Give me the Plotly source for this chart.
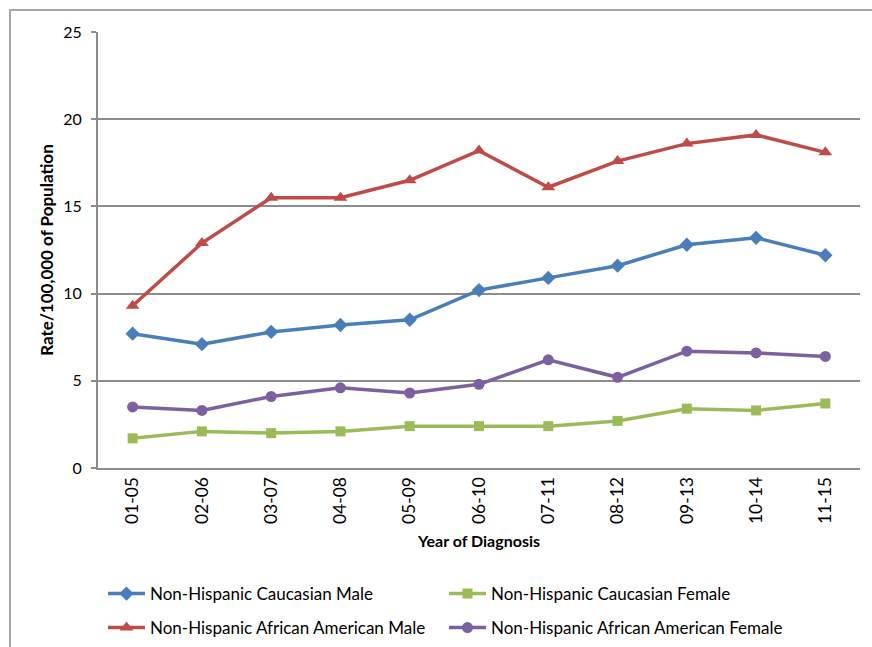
import plotly.graph_objects as go

periods = ["01-05", "02-06", "03-07", "04-08", "05-09", "06-10", "07-11", "08-12", "09-13", "10-14", "11-15"]
cauc_male = [7.7, 7.1, 7.8, 8.2, 8.5, 10.2, 10.9, 11.6, 12.8, 13.2, 12.2]
cauc_female = [1.7, 2.1, 2.0, 2.1, 2.4, 2.4, 2.4, 2.7, 3.4, 3.3, 3.7]
aa_male = [9.3, 12.9, 15.5, 15.5, 16.5, 18.2, 16.1, 17.6, 18.6, 19.1, 18.1]
aa_female = [3.5, 3.3, 4.1, 4.6, 4.3, 4.8, 6.2, 5.2, 6.7, 6.6, 6.4]

series = [
    ("Non-Hispanic Caucasian Male", cauc_male, "#4A7EBB", "diamond", 11, "legend"),
    ("Non-Hispanic Caucasian Female", cauc_female, "#9BBB59", "square", 10, "legend"),
    ("Non-Hispanic African American Male", aa_male, "#BE4B48", "triangle-up", 12, "legend2"),
    ("Non-Hispanic African American Female", aa_female, "#7D60A0", "circle", 11, "legend2"),
]

FONT = "Lato"

fig = go.Figure()
for name, vals, color, sym, size, lg in series:
    fig.add_trace(go.Scatter(
        x=periods, y=vals, name=name, mode="lines+markers",
        line=dict(color=color, width=3.5),
        marker=dict(symbol=sym, size=size, color=color),
        legend=lg,
    ))

W, H = 872, 647
L, R, T, B = 98, 872 - 860, 32, 647 - 468
pw, ph = W - L - R, H - T - B

def px_x(p):
    return (p - L) / pw

def px_y(p):
    return (H - B - p) / ph

leg_common = dict(
    orientation="h", xanchor="left", yanchor="middle",
    entrywidth=289, entrywidthmode="pixels", itemwidth=37,
    font=dict(family=FONT, size=17, color="black"),
    bgcolor="rgba(0,0,0,0)",
)

fig.update_layout(
    width=W, height=H,
    margin=dict(l=L, r=R, t=T, b=B, autoexpand=False),
    paper_bgcolor="white", plot_bgcolor="white",
    font=dict(family=FONT, size=16, color="black"),
    showlegend=True,
    legend=dict(x=px_x(103), y=px_y(594), **leg_common),
    legend2=dict(x=px_x(103), y=px_y(628), **leg_common),
    xaxis=dict(
        type="category", range=[-0.5, 10.5], tickangle=-90,
        showgrid=False, showline=True, linecolor="#8C8C8C", linewidth=2,
        ticks="", tickfont=dict(family=FONT, size=17.5), ticklabelstandoff=0,
        title=dict(text="<b>Year of Diagnosis</b>", font=dict(family=FONT, size=16), standoff=13),
        automargin=False,
    ),
    yaxis=dict(
        range=[0, 25], tickvals=[0, 5, 10, 15, 20, 25],
        showgrid=True, gridcolor="#8C8C8C", gridwidth=1.5,
        showline=True, linecolor="#8C8C8C", linewidth=2,
        ticks="outside", ticklen=5, tickcolor="#8C8C8C", tickwidth=1.5,
        tickfont=dict(family=FONT, size=16), ticklabelstandoff=6,
        zeroline=False,
        title=dict(text="<b>Rate/100,000 of Population</b>", font=dict(family=FONT, size=17), standoff=5),
        automargin=False,
    ),
    shapes=[dict(
        type="rect", xref="paper", yref="paper",
        x0=px_x(10), x1=px_x(900), y0=px_y(680), y1=px_y(10),
        line=dict(color="#A6A6A6", width=2), fillcolor="rgba(0,0,0,0)", layer="below",
    )],
)

fig.write_html(
    "out.html",
    config={"displayModeBar": False},
    post_script="document.body.style.margin='0';document.body.style.overflow='hidden';",
)
